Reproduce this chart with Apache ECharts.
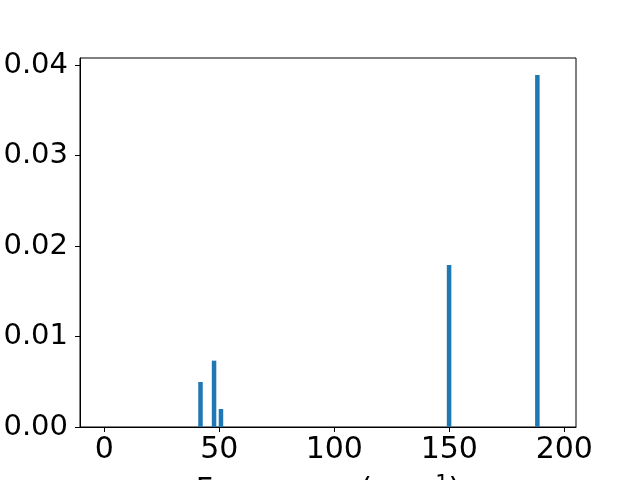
<!DOCTYPE html>
<html>
<head>
<meta charset="utf-8">
<script src="https://cdn.jsdelivr.net/npm/echarts@6/dist/echarts.min.js"></script>
<style>html,body{margin:0;padding:0;background:#fff;}#chart{width:640px;height:480px;}</style>
</head>
<body>
<div id="chart"></div>
<script>
var frequencies = [41.8, 47.7, 50.7, 149.9, 188.3];
var intensities = [0.00497, 0.00733, 0.00199, 0.0179, 0.0389];
var xTicks = [0, 50, 100, 150, 200];
var yTicks = [0, 0.01, 0.02, 0.03, 0.04];

var chart = echarts.init(document.getElementById('chart'), null, {renderer: 'canvas'});
var font = 'DejaVu Sans';
var pairs = frequencies.map(function (f, i) { return [f, intensities[i]]; });

chart.setOption({
  animation: false,
  backgroundColor: '#fff',
  grid: {
    left: 80, right: 64, top: 58, bottom: 53,
    show: true, borderColor: '#000', borderWidth: 1,
    containLabel: false, outerBoundsMode: 'none'
  },
  xAxis: {
    type: 'value', min: -10.6, max: 205.1,
    axisLine: {show: true, onZero: false, lineStyle: {color: '#000', width: 1}},
    axisTick: {show: true, inside: false, length: 5, customValues: xTicks, lineStyle: {color: '#000', width: 1}},
    axisLabel: {show: true, customValues: xTicks, margin: 8, color: '#000', fontFamily: font, fontSize: 30},
    splitLine: {show: false},
    name: '{a|Frequency (cm}{s|−1}{a|)}',
    nameLocation: 'middle',
    nameGap: 47,
    nameTextStyle: {
      rich: {
        a: {fontFamily: font, fontSize: 30, color: '#000'},
        s: {fontFamily: font, fontSize: 21, color: '#000', padding: [0, 0, 13, 0]}
      }
    }
  },
  yAxis: {
    type: 'value', min: 0, max: 0.04077,
    axisLine: {show: true, onZero: false, lineStyle: {color: '#000', width: 1}},
    axisTick: {show: true, inside: false, length: 5, customValues: yTicks, lineStyle: {color: '#000', width: 1}},
    axisLabel: {show: true, customValues: yTicks, margin: 12, color: '#000', fontFamily: font, fontSize: 29,
      formatter: function (v) { return v.toFixed(2); }},
    splitLine: {show: false}
  },
  series: [{
    type: 'bar',
    data: pairs,
    barWidth: 4.5,
    itemStyle: {color: '#1f77b4'}
  }]
});
</script>
</body>
</html>
